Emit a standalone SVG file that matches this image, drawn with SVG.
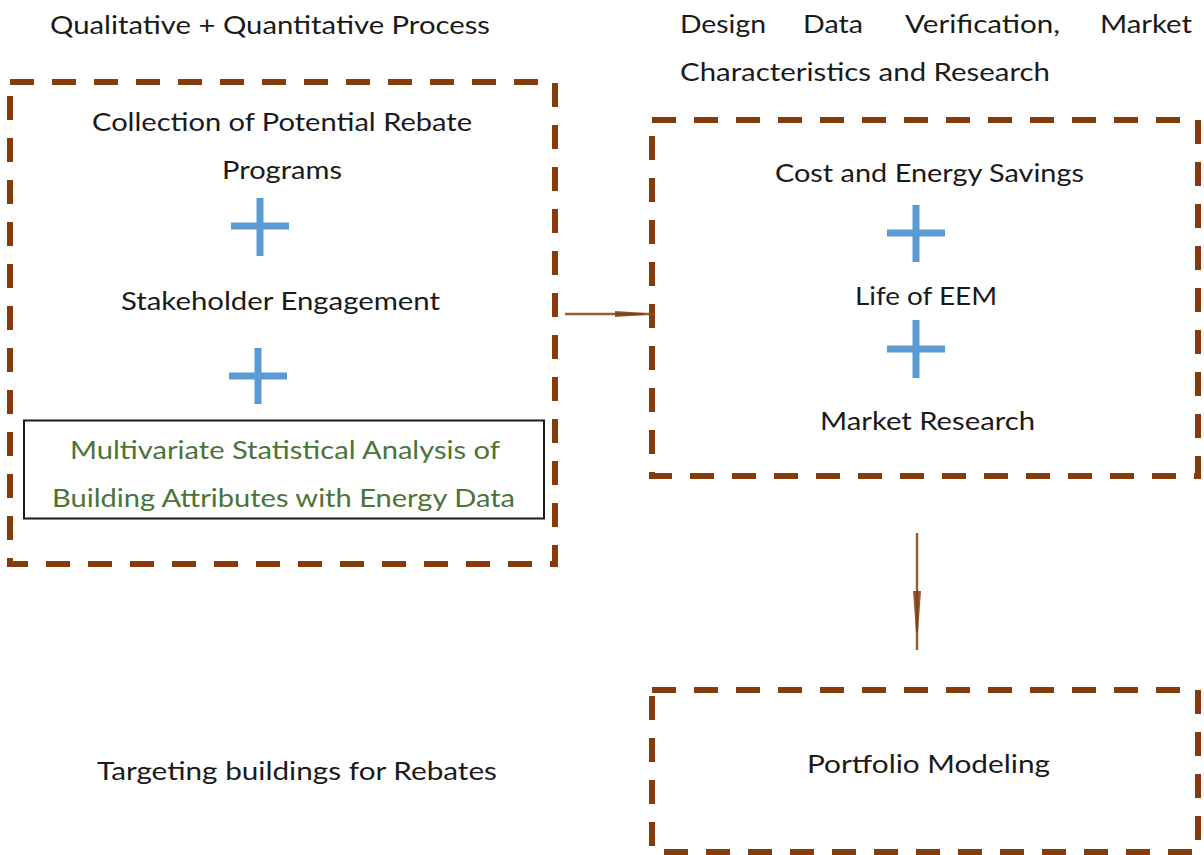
<svg xmlns="http://www.w3.org/2000/svg" width="1204" height="855" viewBox="0 0 1204 855">
  <style>
    .lbl { font-family: Lato, "Open Sans", "Liberation Sans", sans-serif; font-size: 25px; fill: #1a1a1a; }
    .grn { fill: #4b7437; }
    .box { fill: none; stroke: #843c0c; stroke-width: 6; stroke-dasharray: 24 18; }
    .plus { stroke: #5b9bd5; stroke-width: 7; }
    .conn { stroke: #8f4a1c; stroke-width: 2.5; fill: none; opacity: 0.9; }
    .head { fill: #843c0c; opacity: 0.85; }
  </style>

  <rect width="1204" height="855" fill="#ffffff"/>

  <!-- free-standing headings -->
  <g id="heading-left">
    <text class="lbl" x="50" y="34" textLength="440" lengthAdjust="spacingAndGlyphs">Qualitative + Quantitative Process</text>
  </g>
  <g id="heading-right">
    <text class="lbl" x="680" y="33">
      <tspan x="680" textLength="86" lengthAdjust="spacingAndGlyphs">Design</tspan>
      <tspan x="803" textLength="60" lengthAdjust="spacingAndGlyphs">Data</tspan>
      <tspan x="905" textLength="155" lengthAdjust="spacingAndGlyphs">Verification,</tspan>
      <tspan x="1100" textLength="92" lengthAdjust="spacingAndGlyphs">Market</tspan>
    </text>
    <text class="lbl" x="680" y="81" textLength="370" lengthAdjust="spacingAndGlyphs">Characteristics and Research</text>
  </g>

  <!-- qualitative + quantitative block -->
  <g id="process-box">
    <path class="box" d="M10 82 H555 V564 H10 Z"/>
    <text class="lbl" x="92" y="131" textLength="380" lengthAdjust="spacingAndGlyphs">Collection of Potential Rebate</text>
    <text class="lbl" x="222" y="179" textLength="120" lengthAdjust="spacingAndGlyphs">Programs</text>
    <path class="plus" d="M231 226 H289 M260 198 V256"/>
    <text class="lbl" x="121" y="310" textLength="319" lengthAdjust="spacingAndGlyphs">Stakeholder Engagement</text>
    <path class="plus" d="M229 376 H287 M258 348 V404"/>
  </g>

  <g id="statistical-analysis">
    <rect x="24" y="420.5" width="520" height="98" fill="none" stroke="#1a1a1a" stroke-width="2"/>
    <text class="lbl grn" x="70" y="459" textLength="430" lengthAdjust="spacingAndGlyphs">Multivariate Statistical Analysis of</text>
    <text class="lbl grn" x="52" y="507" textLength="463" lengthAdjust="spacingAndGlyphs">Building Attributes with Energy Data</text>
  </g>

  <!-- savings block -->
  <g id="savings-box">
    <path class="box" d="M652 120 H1198 V476 H652 Z"/>
    <text class="lbl" x="775" y="182" textLength="309" lengthAdjust="spacingAndGlyphs">Cost and Energy Savings</text>
    <path class="plus" d="M887 233 H945 M916 205 V262"/>
    <text class="lbl" x="855" y="305" textLength="142" lengthAdjust="spacingAndGlyphs">Life of EEM</text>
    <path class="plus" d="M887 349 H945 M916 320 V378"/>
    <text class="lbl" x="820" y="430" textLength="215" lengthAdjust="spacingAndGlyphs">Market Research</text>
  </g>

  <g id="portfolio-box">
    <path class="box" d="M652 690 H1198 V852 H652 Z"/>
    <text class="lbl" x="807" y="773" textLength="243" lengthAdjust="spacingAndGlyphs">Portfolio Modeling</text>
  </g>

  <g id="targeting">
    <text class="lbl" x="97" y="780" textLength="400" lengthAdjust="spacingAndGlyphs">Targeting buildings for Rebates</text>
  </g>

  <!-- connectors -->
  <g id="connectors">
    <line class="conn" x1="565" y1="314" x2="655" y2="314"/>
    <polygon class="head" points="615,311 645,313 645,315 615,317"/>
    <line class="conn" x1="917" y1="533" x2="917" y2="650"/>
    <polygon class="head" points="913,591 921,591 918,632 916,632"/>
  </g>
</svg>
